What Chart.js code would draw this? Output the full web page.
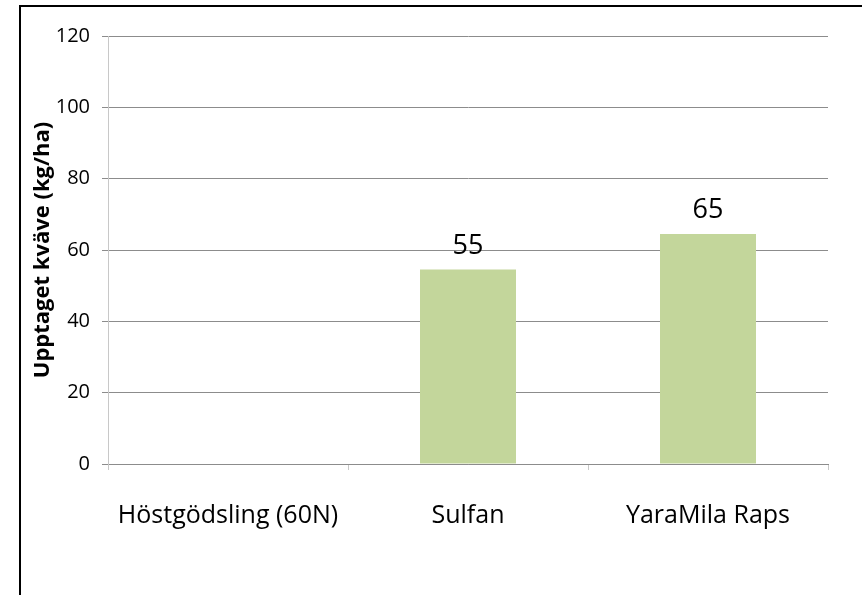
<!DOCTYPE html>
<html>
<head>
<meta charset="utf-8">
<script src="https://cdn.jsdelivr.net/npm/chart.js"></script>
<style>
  html, body { margin: 0; padding: 0; background: #fff; }
  #wrap { position: relative; width: 862px; height: 595px; overflow: hidden; }
  #frame { position: absolute; left: 19px; top: 5px; width: 900px; height: 700px; border-left: 2px solid #000; border-top: 2px solid #000; }
  canvas { position: absolute; left: 0; top: 0; }
</style>
</head>
<body>
<div id="wrap">
  <div id="frame"></div>
  <canvas id="barChart" width="862" height="595"></canvas>
</div>
<script>
    const categories = ['Höstgödsling (60N)', 'Sulfan', 'YaraMila Raps'];
    const upptagetKvave = [null, 54.5, 64.5];
    const yTicks = [0, 20, 40, 60, 80, 100, 120];

    // etiketter ovanför staplarna
    const valueLabels = {
        id: 'valueLabels',
        afterDatasetsDraw(chart) {
            const c = chart.ctx;
            const meta = chart.getDatasetMeta(0);
            c.save();
            c.font = '27px "Open Sans"';
            c.fillStyle = '#000';
            c.textAlign = 'center';
            c.textBaseline = 'alphabetic';
            meta.data.forEach((bar, i) => {
                const v = upptagetKvave[i];
                if (v == null) return;
                c.fillText(Math.round(v), bar.x, bar.y - 16);
            });
            c.restore();
        }
    };

    const ctx = document.getElementById('barChart').getContext('2d');
    const barChart = new Chart(ctx, {
        type: 'bar',
        data: {
            labels: categories,
            datasets: [{
                data: upptagetKvave,
                backgroundColor: '#C3D69B',
                categoryPercentage: 1,
                barPercentage: 0.4
            }]
        },
        options: {
            responsive: false,
            animation: false,
            layout: { padding: { left: 30, top: 36, right: 34, bottom: 0 } },
            plugins: {
                legend: { display: false },
                tooltip: { enabled: false }
            },
            scales: {
                x: {
                    grid: {
                        display: true,
                        drawOnChartArea: false,
                        offset: true,
                        tickLength: 6,
                        color: '#c8c8c8'
                    },
                    border: { color: '#8c8c8c' },
                    ticks: {
                        color: '#000',
                        padding: 31,
                        font: { family: 'Open Sans', size: 25 }
                    },
                    afterFit(scale) { scale.height = 131; }
                },
                y: {
                    min: 0,
                    max: 120,
                    afterBuildTicks(scale) { scale.ticks = yTicks.map(v => ({ value: v })); },
                    grid: { color: '#8c8c8c', tickLength: 6 },
                    border: { color: '#c8c8c8' },
                    ticks: {
                        color: '#000',
                        padding: 12,
                        font: { family: 'Open Sans', size: 20 }
                    },
                    title: {
                        display: true,
                        text: 'Upptaget kväve (kg/ha)',
                        color: '#000',
                        padding: 0,
                        font: { family: 'Open Sans', size: 22, weight: 'bold' }
                    },
                    afterFit(scale) { scale.width = 78; }
                }
            }
        },
        plugins: [valueLabels]
    });
</script>
</body>
</html>
